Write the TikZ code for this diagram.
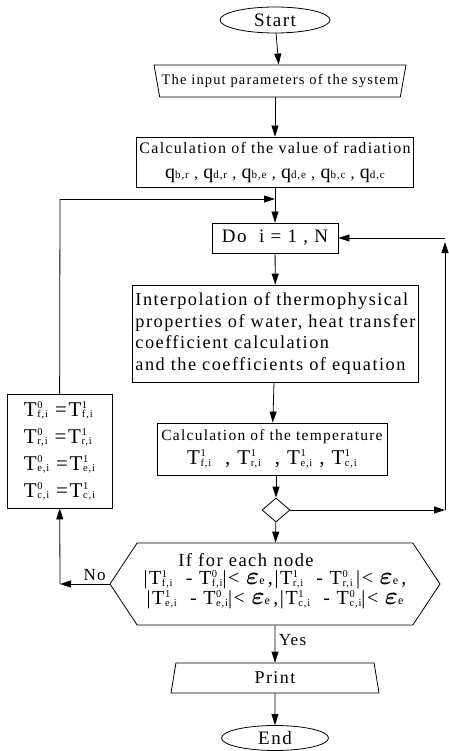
\documentclass[tikz,border=0pt]{standalone}
\usepackage{amsmath,bm}
\usepackage{fontspec}
\setmainfont{Liberation Serif}[LetterSpace=8]
\usepackage{tikz}
\usetikzlibrary{positioning,shapes.geometric,shapes.symbols,arrows.meta}
\newcommand{\fs}[1]{\fontsize{#1}{#1}\selectfont}
\newcommand{\qv}[1]{{\fs{20}q}{\fs{11}#1}}
\newcommand{\Tv}[2]{T\kern0.6pt\rlap{\raisebox{0.38em}{\fs{10.5}#1}}\raisebox{-1.2pt}{\fs{10.5}#2}}
\newcommand{\epsv}{{\fs{24}$\bm{\varepsilon}$}{\fs{12}e}}
\begin{document}
\begin{tikzpicture}[x=1pt, y=-1pt, line width=0.8pt, >={Triangle[length=11pt,width=7pt]},
  every node/.style={font=\fs{15}},
  procbox/.style={draw, rectangle, inner sep=3pt},
  termbox/.style={draw, ellipse, inner sep=0pt, font=\fs{19}},
  iobox/.style={draw, trapezium, trapezium stretches body, inner sep=2pt}]
\useasboundingbox (0,0) rectangle (448,751);
\node[termbox, minimum width=110pt, minimum height=26pt] (start) at (275,20) {Start};
\node[iobox, shape border rotate=180, trapezium left angle=72, trapezium right angle=72, minimum width=244pt, minimum height=32pt, font=\fs{14.5}] (input) at (280,81) {The input parameters of the system};
\node[procbox, minimum width=276pt, minimum height=50pt, align=center, font=\fontsize{16}{25}\selectfont] (rad) at (275,162) {Calculation of the value of radiation\\ \qv{b,r} , \qv{d,r} , \qv{b,e} , \qv{d,e} , \qv{b,c} , \qv{d,c}};
\node[procbox, minimum width=126pt, minimum height=30pt, font=\fs{19}] (do) at (275,238) {Do\ \ i = 1 , N};
\node[procbox, minimum width=285pt, minimum height=97pt, align=left, font=\fontsize{18.3}{21.5}\selectfont] (interp) at (275.5,333.5) {Interpolation of thermophysical\\ properties of water, heat transfer\\ coefficient calculation\\ and the coefficients of equation};
\node[procbox, minimum width=230pt, minimum height=52pt, align=center, font=\fontsize{15.5}{24}\selectfont] (temp) at (272,449) {Calculation of the temperature\\ {\fs{21}\Tv{1}{f,i}\ \ , \Tv{1}{r,i}\ \ , \Tv{1}{e,i}\ , \Tv{1}{c,i}}};
\node[draw, diamond, minimum width=28pt, minimum height=24pt, inner sep=0pt] (chk) at (276,510) {};
\node[draw, signal, signal to=west and east, signal pointer angle=113, minimum width=330pt, minimum height=82pt, inner sep=0pt, align=center, font=\fontsize{20}{20}\selectfont] (cond) at (275,584) {\rule{0pt}{26pt}|\Tv{1}{f,i}\ \ - \Tv{0}{f,i}|< \epsv\,,|\Tv{1}{r,i}\ \ - \Tv{0}{r,i}\,|< \epsv\,,\\ |\Tv{1}{e,i}\ \ - \Tv{0}{e,i}|< \epsv\,,|\Tv{1}{c,i}\ \ - \Tv{0}{c,i}|< \epsv};
\node[font=\fs{18.5}, inner sep=0pt] (condhead) at (246,560) {If for each node};
\node[procbox, minimum width=105pt, minimum height=114pt, align=left, font=\fontsize{21}{27}\selectfont] (upd) at (59.5,451) {\Tv{0}{f,i} =\Tv{1}{f,i}\\ \Tv{0}{r,i} =\Tv{1}{r,i}\\ \Tv{0}{e,i} =\Tv{1}{e,i}\\ \Tv{0}{c,i} =\Tv{1}{c,i}};
\node[iobox, trapezium left angle=73, trapezium right angle=73, minimum width=208pt, minimum height=30pt, font=\fs{18}] (print) at (275,678) {Print};
\node[termbox, minimum width=107pt, minimum height=25pt] (end) at (275,738) {End};
% named corners of the loops
\coordinate (merge) at (275,199);
\coordinate (lup) at (60,199);
\coordinate (ldown) at (60,584);
\coordinate (rdown) at (445,510);
\coordinate (rup) at (445,238);
\foreach \x/\y in {start/input,rad/do,do/interp,interp/temp,chk/cond,print/end}
  \draw[->] (\x) -- (\y);
\draw[->] (input.south -| rad.north) -- (rad);
\draw[->] (chk.north |- temp.south) -- (chk);
\draw[->] (cond) -- node[pos=0.4, right, font=\fs{17}] {Yes} (print);
\draw (upd) -- (lup);
\draw[->] (lup) -- (merge);
\draw[->] (chk.east) -- (rdown);
\draw[->] (rdown) -- ([yshift=-4pt]rup);
\draw[->] (rup) -- (do.east);
\draw[->] (cond.west) -- node[pos=0.3, above, font=\fs{17}] {No} (ldown);
\draw[->] (ldown) -- (upd);
\end{tikzpicture}
\end{document}
